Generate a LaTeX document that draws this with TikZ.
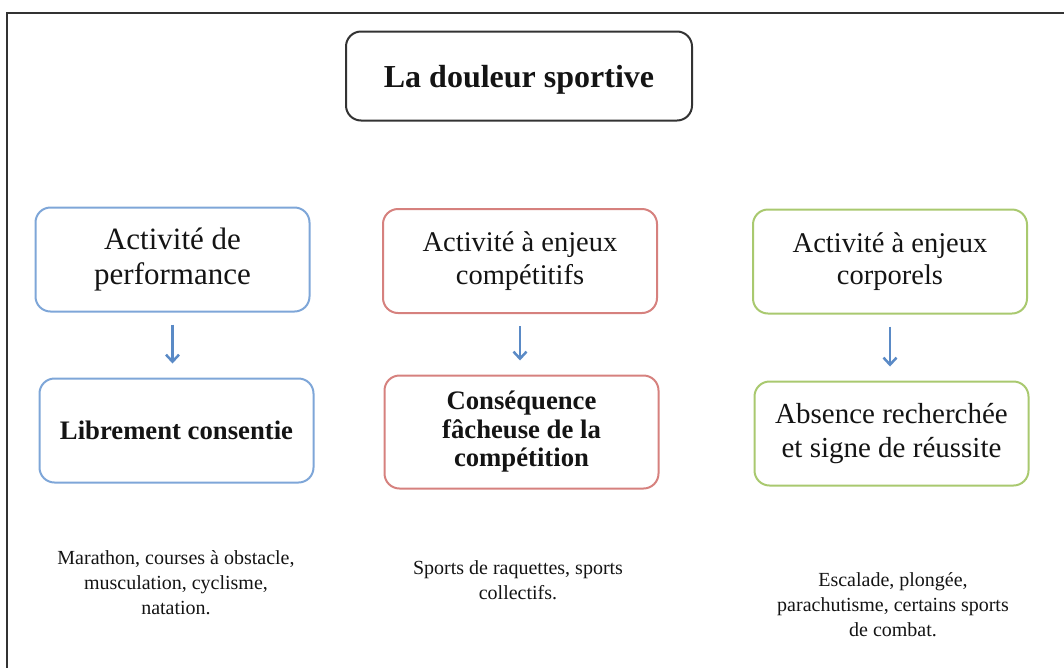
\documentclass[tikz,border=0pt]{standalone}
\usepackage{fontspec}
\setmainfont{Liberation Serif}
\usetikzlibrary{positioning,arrows.meta}

\definecolor{encre}{HTML}{141414}
\definecolor{bleu}{HTML}{7EA6D8}
\definecolor{rouge}{HTML}{D6817E}
\definecolor{vert}{HTML}{A9C96F}
\definecolor{fleche}{HTML}{5A8AC6}
\definecolor{cadre}{HTML}{333333}

\begin{document}
\begin{tikzpicture}[x=1pt, y=-1pt, node distance=171pt,
    boite/.style={rectangle, rounded corners=15pt, draw, line width=2pt, fill=white,
        minimum width=274pt, minimum height=104pt, align=center, text=encre},
    haut/.style={font=\fontsize{28.5}{32.5}\selectfont},
    gras/.style={font=\bfseries\fontsize{26.7}{28.5}\selectfont},
    exemple/.style={align=center, text=encre, font=\fontsize{20}{25}\selectfont},
    lien/.style={draw=fleche, line width=2.2pt,
        -{Straight Barb[length=7pt,width=13pt,line width=2.5pt]},
        shorten <=12pt, shorten >=14pt}]
    \useasboundingbox (0,0) rectangle (1064,667);
    % cadre de la page
    \draw[cadre, line width=2pt] (7,690) -- (7,13) -- (1090,13);

    \node (titre) [boite, draw=cadre, minimum width=346pt, minimum height=89pt, text depth=0pt,
        font=\bfseries\fontsize{32}{34}\selectfont] at (519,76) {La douleur sportive};

    % colonne 1
    \node (perf) [boite, draw=bleu, font=\fontsize{31}{34.5}\selectfont] at (172.5,259.5) {Activité de\\performance};
    \node (libre) [boite, draw=bleu, gras, below of=perf, xshift=4pt] {Librement consentie};
    % colonne 2
    \node (compet) [boite, draw=rouge, haut] at (520,261) {Activité à enjeux\\compétitifs};
    \node (consq) [boite, draw=rouge, gras, below of=compet, xshift=1.5pt, minimum height=113pt] {Conséquence\\fâcheuse de la\\compétition};
    % colonne 3
    \node (corps) [boite, draw=vert, haut] at (890,261.5) {Activité à enjeux\\corporels};
    \node (absence) [boite, draw=vert, below of=corps, xshift=1.5pt, yshift=-1pt,
        font=\fontsize{29}{34}\selectfont] {Absence recherchée\\et signe de réussite};

    \draw[lien] (perf.south) -- (perf.south |- libre.north);
    \draw[lien] (compet.south) -- (compet.south |- consq.north);
    \draw[lien] (corps.south) -- (corps.south |- absence.north);

    \node (ex1) [exemple] at (176,583) {Marathon, courses à obstacle,\\musculation, cyclisme,\\natation.};
    \node (ex2) [exemple] at (518,580) {Sports de raquettes, sports\\collectifs.};
    \node (ex3) [exemple] at (893,605) {Escalade, plongée,\\parachutisme, certains sports\\de combat.};
\end{tikzpicture}
\end{document}
